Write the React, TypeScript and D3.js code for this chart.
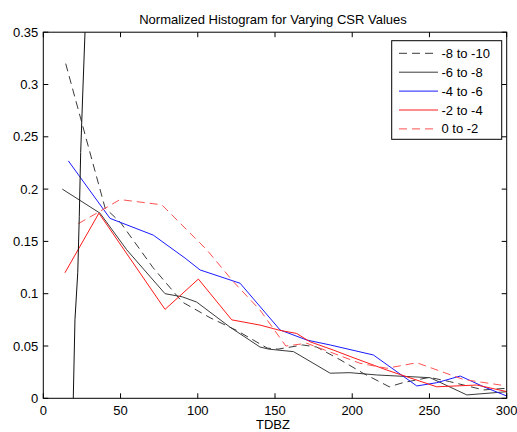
import React from "react";
import * as d3 from "d3";

const W = 517;
const H = 432;

const xTicks = [0, 50, 100, 150, 200, 250, 300];
const yTicks = [0, 0.05, 0.1, 0.15, 0.2, 0.25, 0.3, 0.35];
const yTickLabels = ["0", "0.05", "0.1", "0.15", "0.2", "0.25", "0.3", "0.35"];

const seriesNames = ["-8 to -10", "-6 to -8", "-4 to -6", "-2 to -4", "0 to -2"];

// -8 to -10 (dashed dark)
const s1x = [14.5, 40, 50, 71, 90, 108, 125, 145, 152, 168, 177, 192, 207, 224, 233, 250, 263, 285, 300];
const s1y = [0.32, 0.182, 0.168, 0.125, 0.092, 0.077, 0.065, 0.048, 0.047, 0.051, 0.049, 0.037, 0.024, 0.011, 0.015, 0.02, 0.016, 0.008, 0.0096];
// -6 to -8 (solid dark)
const s2x = [12.3, 36.7, 54, 78.8, 90, 99.3, 120.9, 140.3, 146, 162, 185.7, 198.6, 215.9, 250.4, 274.2, 300];
const s2y = [0.2, 0.177, 0.142, 0.1, 0.097, 0.092, 0.068, 0.049, 0.047, 0.0446, 0.024, 0.0245, 0.0223, 0.0197, 0.0032, 0.0063];
// -4 to -6 (blue)
const s3x = [16.2, 43.2, 71.2, 91.8, 101.5, 127.4, 153.3, 170.6, 185.7, 213.7, 241.8, 254.7, 269.9, 285, 300];
const s3y = [0.227, 0.172, 0.156, 0.134, 0.1227, 0.11, 0.0653, 0.0557, 0.051, 0.0414, 0.0118, 0.0149, 0.0213, 0.0111, 0.0022];
// -2 to -4 (red)
const s4x = [14, 36, 78.8, 100.4, 122, 140.3, 153, 164, 172.7, 188, 198.6, 222.4, 254.7, 280.7, 300];
const s4y = [0.12, 0.177, 0.085, 0.114, 0.075, 0.07, 0.065, 0.062, 0.054, 0.046, 0.04, 0.027, 0.011, 0.0127, 0.0064];
// 0 to -2 (light red dashed)
const s5x = [22.7, 34.6, 49.7, 76.7, 105.8, 123, 140.3, 157, 170.6, 205, 222.4, 241.8, 272, 300];
const s5y = [0.167, 0.177, 0.19, 0.185, 0.142, 0.1115, 0.0844, 0.05, 0.0526, 0.0335, 0.0287, 0.034, 0.018, 0.0118];
// extra steep series (not in legend)
const s6x = [19.4, 20.5, 22.3, 23.3, 24.2, 25.5, 27, 30];
const s6y = [0, 0.075, 0.12, 0.174, 0.235, 0.29, 0.35, 0.48];

const FONT = "Liberation Sans, Arial, sans-serif";

export default function App() {
  const left = 43.3, right = 506.7, top = 32.2, bottom = 398.3;
  const x = d3.scaleLinear().domain([0, 300]).range([left, right]);
  const y = d3.scaleLinear().domain([0, 0.35]).range([bottom, top]);
  const line = d3
    .line<[number, number]>()
    .x((d) => x(d[0]))
    .y((d) => y(d[1]));
  const mk = (xs: number[], ys: number[]) => xs.map((v, i) => [v, ys[i]] as [number, number]);

  const series = [
    { name: seriesNames[0], pts: mk(s1x, s1y), color: "#3a3a3a", dash: "8,5" },
    { name: seriesNames[1], pts: mk(s2x, s2y), color: "#3a3a3a", dash: "" },
    { name: seriesNames[2], pts: mk(s3x, s3y), color: "#1a1aff", dash: "" },
    { name: seriesNames[3], pts: mk(s4x, s4y), color: "#ff1a1a", dash: "" },
    { name: seriesNames[4], pts: mk(s5x, s5y), color: "#ff5050", dash: "8,5" },
  ];
  const extra = { pts: mk(s6x, s6y), color: "#111111" };

  const tickLen = 5;
  const legX = 391.7, legY = 40.7, legW = 110, legH = 98.6;
  const rowH = 18.9;
  const fs = 13;

  return (
    <svg
      width={W}
      height={H}
      style={{ position: "absolute", left: 0, top: 0, background: "#fff" }}
      fontFamily={FONT}
    >
      <rect x={0} y={0} width={W} height={H} fill="#fff" />
      <defs>
        <clipPath id="plotclip">
          <rect x={left} y={top} width={right - left} height={bottom - top} />
        </clipPath>
      </defs>
      <text x={(left + right) / 2 - 2} y={24} textAnchor="middle" fontSize={fs} fill="#000">
        Normalized Histogram for Varying CSR Values
      </text>
      <g clipPath="url(#plotclip)">
        {series.map((s) => (
          <path
            key={s.name}
            d={line(s.pts) || ""}
            fill="none"
            stroke={s.color}
            strokeWidth={1}
            strokeDasharray={s.dash || undefined}
          />
        ))}
        <path d={line(extra.pts) || ""} fill="none" stroke={extra.color} strokeWidth={1} />
      </g>
      {/* axes box */}
      <rect x={left} y={top} width={right - left} height={bottom - top} fill="none" stroke="#000" strokeWidth={1} />
      {xTicks.map((t) => (
        <g key={"x" + t}>
          <line x1={x(t)} x2={x(t)} y1={bottom} y2={bottom - tickLen} stroke="#000" />
          <line x1={x(t)} x2={x(t)} y1={top} y2={top + tickLen} stroke="#000" />
          <text x={x(t)} y={415} textAnchor="middle" fontSize={fs} fill="#000">
            {t}
          </text>
        </g>
      ))}
      {yTicks.map((t, i) => (
        <g key={"y" + t}>
          <line x1={left} x2={left + tickLen} y1={y(t)} y2={y(t)} stroke="#000" />
          <line x1={right} x2={right - tickLen} y1={y(t)} y2={y(t)} stroke="#000" />
          <text x={left - 5} y={y(t) + 4.5} textAnchor="end" fontSize={fs} fill="#000">
            {yTickLabels[i]}
          </text>
        </g>
      ))}
      <text x={(left + right) / 2 - 2} y={428.5} textAnchor="middle" fontSize={fs} fill="#000">
        TDBZ
      </text>
      {/* legend */}
      <rect x={legX} y={legY} width={legW} height={legH} fill="#fff" stroke="#000" strokeWidth={1} />
      {series.map((s, i) => {
        const cy = legY + 12.6 + i * rowH;
        return (
          <g key={"leg" + s.name}>
            <line
              x1={399}
              x2={438}
              y1={cy}
              y2={cy}
              stroke={s.color}
              strokeWidth={1}
              strokeDasharray={s.dash || undefined}
            />
            <text x={441.5} y={cy + 4.5} fontSize={fs} fill="#000">
              {s.name}
            </text>
          </g>
        );
      })}
    </svg>
  );
}
